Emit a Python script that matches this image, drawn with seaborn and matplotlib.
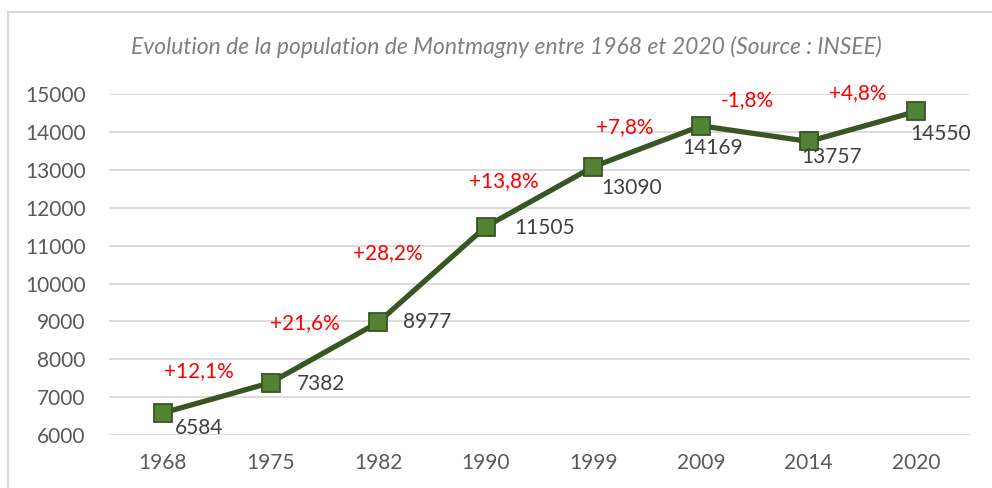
import matplotlib
matplotlib.use("Agg")
import matplotlib.pyplot as plt
import seaborn as sns
import pandas as pd
from matplotlib.patches import Rectangle

years = ["1968", "1975", "1982", "1990", "1999", "2009", "2014", "2020"]
population = [6584, 7382, 8977, 11505, 13090, 14169, 13757, 14550]
growth_labels = ["+12,1%", "+21,6%", "+28,2%", "+13,8%", "+7,8%", "-1,8%", "+4,8%"]
title = "Evolution de la population de Montmagny entre 1968 et 2020 (Source : INSEE)"

# label placement (pixels)
value_offsets = [(12, -15, "left"), (26, -1, "left"), (25, 0, "left"), (28, -1, "left"),
                 (8, -21, "left"), (11, -22, "center"), (23, -16, "center"), (24, -23, "center")]
growth_offsets = [(-18, 27), (-20, 29), (-44, 21), (-36, 16), (-23, 19), (-8, 34), (-5, 33)]

sns.set_style("white")
plt.rcParams["font.family"] = ["Lato", "DejaVu Sans"]

df = pd.DataFrame({"year": years, "pop": population})

fig = plt.figure(figsize=(9.92, 4.88), dpi=100)
ax = fig.add_axes([0.110, 0.1086, 0.868, 0.698])

sns.pointplot(data=df, x="year", y="pop", ax=ax, errorbar=None, color="#375623",
              markers="s", linestyles="-", linewidth=3.8, markersize=13,
              markerfacecolor="#548235", markeredgecolor="#375623", markeredgewidth=1.3)

ax.set_xlim(-0.5, len(years) - 0.5)
ax.set_ylim(6000, 15000)
ax.set_yticks(range(6000, 15001, 1000))
ax.yaxis.grid(True, color="#d9d9d9", linewidth=1.3)
ax.set_axisbelow(True)
sns.despine(ax=ax, left=True, bottom=True)
ax.tick_params(axis="both", length=0, labelsize=15, labelcolor="#595959")
ax.tick_params(axis="y", pad=17)
ax.tick_params(axis="x", pad=13)
ax.set_xlabel("")
ax.set_ylabel("")

for i, v in enumerate(population):
    dx, dy, ha = value_offsets[i]
    ax.annotate(str(v), (i, v), xytext=(dx, dy), textcoords="offset pixels",
                ha=ha, va="center", fontsize=15, color="#404040")

for i, lab in enumerate(growth_labels):
    dx, dy = growth_offsets[i]
    mid = (population[i] + population[i + 1]) / 2
    ax.annotate(lab, (i + 0.5, mid), xytext=(dx, dy), textcoords="offset pixels",
                ha="center", va="center", fontsize=15, color="#ff0000")

fig.text(0.51, 0.904, title, ha="center", va="center", fontsize=16.5,
         style="italic", color="#7f7f7f")

fig.patches.append(Rectangle((8 / 992, -0.1), 1.2, 1 - 12 / 488 + 0.1, transform=fig.transFigure,
                             fill=False, edgecolor="#d9d9d9", linewidth=1.5))

fig.savefig("out.png", dpi=100)
